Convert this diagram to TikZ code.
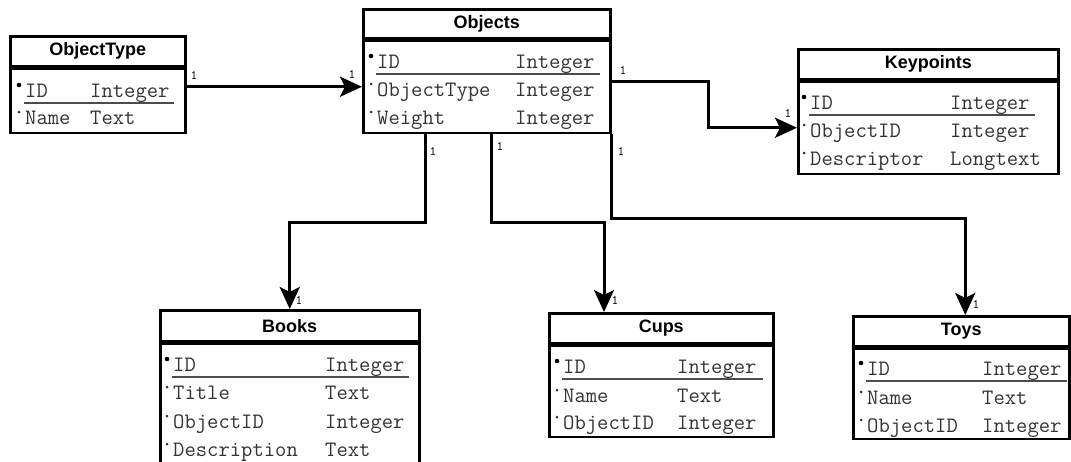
\documentclass[tikz,border=0pt]{standalone}
\usepackage{fontspec}
\newfontfamily\headfont{Liberation Sans}
\usetikzlibrary{arrows.meta, positioning}

\begin{document}
\begin{tikzpicture}[x=1pt, y=-1pt,
    hdr/.style={draw, line width=2.5pt, anchor=north west, inner sep=0pt,
                minimum height=30pt, font=\headfont\bfseries\fontsize{18}{20}\selectfont},
    tbl/.style={draw, line width=2.5pt, inner sep=0pt},
    fld/.style={anchor=west, inner sep=0pt, text height=15pt, text depth=5pt,
                text=black!80, font=\ttfamily\fontsize{22}{24}\selectfont},
    card/.style={inner sep=0pt, font=\ttfamily\fontsize{13}{14}\selectfont},
    keyline/.style={line width=1.3pt, black!70},
    rel/.style={line width=3pt, -{Stealth[length=22pt, width=20pt, inset=5pt]}}
]
\useasboundingbox (0,0) rectangle (1071,461);

% ============================================================
% ObjectType
% ============================================================
\node[hdr, minimum width=175pt] (oth) at (9,35) {ObjectType};
\node[tbl, below=0pt of oth, minimum width=175pt, minimum height=64pt] (otb) {};
\foreach \n/\t/\y [count=\k] in {ID/Integer/92, Name/Text/119} {
    \node[fld] (otn\k) at (25,\y) {\n};
    \node[fld] (ott\k) at (90,\y) {\t};
    \fill[black!80] (19,\y-7) circle (1.5pt);
}
\fill (19,85) circle (2.3pt);
\draw[keyline] (24,103) -- (174,103);

% ============================================================
% Objects
% ============================================================
\node[hdr, minimum width=247pt, minimum height=29pt] (oh) at (362,8) {Objects};
\node[tbl, below=0pt of oh, minimum width=247pt, minimum height=92pt] (ob) {};
\foreach \n/\t/\y [count=\k] in {ID/Integer/63, ObjectType/Integer/91, Weight/Integer/119} {
    \node[fld] (on\k) at (377,\y) {\n};
    \node[fld] (otp\k) at (515,\y) {\t};
    \fill[black!80] (371,\y-7) circle (1.5pt);
}
\fill (371,56) circle (2.3pt);
\draw[keyline] (376,74) -- (600,74);

% ============================================================
% Keypoints
% ============================================================
\node[hdr, minimum width=260pt] (kh) at (797,48) {Keypoints};
\node[tbl, below=0pt of kh, minimum width=260pt, minimum height=92pt] (kb) {};
\foreach \n/\t/\y [count=\k] in {ID/Integer/104, ObjectID/Integer/132, Descriptor/Longtext/160} {
    \node[fld] (kn\k) at (810,\y) {\n};
    \node[fld] (kt\k) at (950,\y) {\t};
    \fill[black!80] (804,\y-7) circle (1.5pt);
}
\fill (804,97) circle (2.3pt);
\draw[keyline] (809,115) -- (1035,115);

% ============================================================
% Books
% ============================================================
\node[hdr, minimum width=259pt, minimum height=31pt] (bh) at (159,309) {Books};
\node[tbl, below=0pt of bh, minimum width=259pt, minimum height=130pt] (bb) {};
\foreach \n/\t/\y [count=\k] in {ID/Integer/366, Title/Text/394, ObjectID/Integer/423, Description/Text/451} {
    \node[fld] (bn\k) at (173,\y) {\n};
    \node[fld] (bt\k) at (325,\y) {\t};
    \fill[black!80] (167,\y-7) circle (1.5pt);
}
\fill (167,359) circle (2.3pt);
\draw[keyline] (172,377) -- (409,377);

% ============================================================
% Cups
% ============================================================
\node[hdr, minimum width=224pt] (ch) at (548,312) {Cups};
\node[tbl, below=0pt of ch, minimum width=224pt, minimum height=91pt] (cb) {};
\foreach \n/\t/\y [count=\k] in {ID/Integer/368, Name/Text/397, ObjectID/Integer/424} {
    \node[fld] (cn\k) at (563,\y) {\n};
    \node[fld] (ct\k) at (677,\y) {\t};
    \fill[black!80] (557,\y-7) circle (1.5pt);
}
\fill (557,361) circle (2.3pt);
\draw[keyline] (562,379) -- (763,379);

% ============================================================
% Toys
% ============================================================
\node[hdr, minimum width=216pt] (th) at (852,315) {Toys};
\node[tbl, below=0pt of th, minimum width=216pt, minimum height=90pt] (tb) {};
\foreach \n/\t/\y [count=\k] in {ID/Integer/370, Name/Text/399, ObjectID/Integer/427} {
    \node[fld] (tn\k) at (867,\y) {\n};
    \node[fld] (tt\k) at (982,\y) {\t};
    \fill[black!80] (861,\y-7) circle (1.5pt);
}
\fill (861,363) circle (2.3pt);
\draw[keyline] (866,381) -- (1067,381);

% ============================================================
% relations
% ============================================================
\coordinate (kpsrc) at ([yshift=5pt]ob.east);
\coordinate (bsrc) at ([xshift=63pt]ob.south west);
\coordinate (csrc) at ([xshift=129pt]ob.south west);
\coordinate (tsrc) at (ob.south east);

\draw[rel] (otb.east |- ob.west) -- (ob.west);
\draw[rel] (kpsrc) -- ++(97,0) |- (kb.west);
\draw[rel] (bsrc) -- ++(0,88) -| (bh.north);
\draw[rel] (csrc) -- ++(0,88) -| ([xshift=56pt]ch.north west);
\draw[rel] (tsrc) -- ++(0,84) -| ([xshift=4pt]th.north);

% cardinalities
\node[card] (c1) at (194,75) {1};
\node[card] (c2) at (352,74) {1};
\node[card] (c3) at (623,70) {1};
\node[card] (c4) at (788,113) {1};
\node[card] (c5) at (433,151) {1};
\node[card] (c6) at (500,146) {1};
\node[card] (c7) at (621,151) {1};
\node[card] (c8) at (299,300) {1};
\node[card] (c9) at (615,300) {1};
\node[card] (c10) at (976,304) {1};

\end{tikzpicture}
\end{document}
